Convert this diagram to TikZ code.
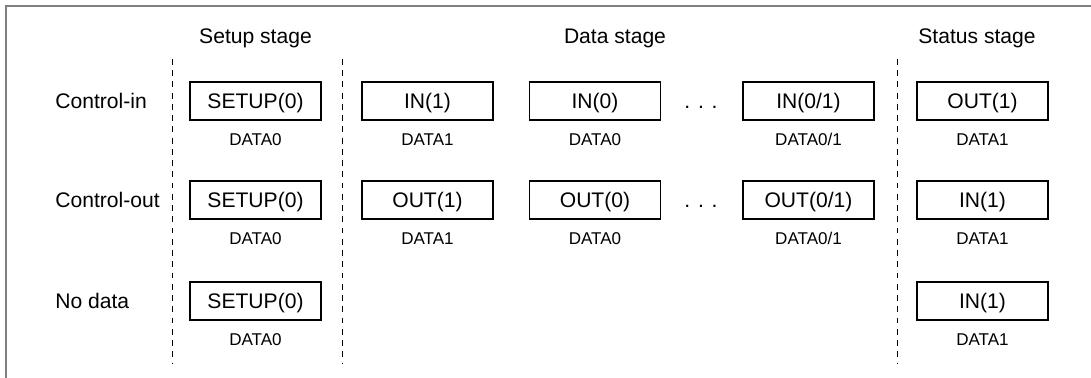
\documentclass[tikz,border=0pt]{standalone}
\usepackage{fontspec}
\setmainfont{Liberation Sans}
\usetikzlibrary{positioning}
\begin{document}
\begin{tikzpicture}[x=0.02cm,y=-0.02cm,font=\fontsize{12}{14}\selectfont,
  pkt/.style={draw,line width=0.7pt,minimum width=2.62cm,minimum height=0.76cm,inner sep=0pt,text height=8.6pt,text depth=0pt},
  pid/.style={font=\fontsize{9.7}{11}\selectfont,inner sep=0pt,text height=6.95pt,text depth=0pt,below=0.24cm of #1},
  lbl/.style={inner sep=0pt,text height=8.6pt,text depth=0pt},
  stagesep/.style={line width=0.55pt,dash pattern=on 3.3pt off 3.1pt}]
\useasboundingbox (0,0) rectangle (1091,378);
% Rahmen
\coordinate (fb) at (6,378); \coordinate (fc) at (6,6); \coordinate (fr) at (1091,6);
\draw[gray,line width=1.1pt] (fb) -- (fc) -- (fr);
% Stufen
\node[lbl] (setup) at (255.5,36) {Setup stage};
\node[lbl] (data) at (615,36) {Data stage};
\node[lbl] (status) at (977,36) {Status stage};
\coordinate (s1t) at (172,59); \coordinate (s1b) at (172,363);
\coordinate (s2t) at (342,59); \coordinate (s2b) at (342,363);
\coordinate (s3t) at (897,59); \coordinate (s3b) at (897,363);
\draw[stagesep] (s1t) -- (s1b); \draw[stagesep] (s2t) -- (s2b); \draw[stagesep] (s3t) -- (s3b);
% Control-in
\node[lbl,anchor=west] (ci) at (55,101) {Control-in};
\node[pkt] (ci-setup) at (255.5,101) {SETUP(0)}; \node[pid=ci-setup] (ci-setup-d) {DATA0};
\node[pkt] (ci-in1) at (427.5,101) {IN(1)}; \node[pid=ci-in1] (ci-in1-d) {DATA1};
\node[pkt] (ci-in0) at (595,101) {IN(0)}; \node[pid=ci-in0] (ci-in0-d) {DATA0};
\node[lbl] (ci-dots) at (701,101) {. . .};
\node[pkt] (ci-inx) at (808.5,101) {IN(0/1)}; \node[pid=ci-inx] (ci-inx-d) {DATA0/1};
\node[pkt] (ci-out) at (982.5,101) {OUT(1)}; \node[pid=ci-out] (ci-out-d) {DATA1};
% Control-out
\node[lbl,anchor=west] (co) at (55,200) {Control-out};
\node[pkt] (co-setup) at (255.5,200) {SETUP(0)}; \node[pid=co-setup] (co-setup-d) {DATA0};
\node[pkt] (co-out1) at (427.5,200) {OUT(1)}; \node[pid=co-out1] (co-out1-d) {DATA1};
\node[pkt] (co-out0) at (595,200) {OUT(0)}; \node[pid=co-out0] (co-out0-d) {DATA0};
\node[lbl] (co-dots) at (701,200) {. . .};
\node[pkt] (co-outx) at (808.5,200) {OUT(0/1)}; \node[pid=co-outx] (co-outx-d) {DATA0/1};
\node[pkt] (co-in) at (982.5,200) {IN(1)}; \node[pid=co-in] (co-in-d) {DATA1};
% No data
\node[lbl,anchor=west] (nd) at (55,301) {No data};
\node[pkt] (nd-setup) at (255.5,301) {SETUP(0)}; \node[pid=nd-setup] (nd-setup-d) {DATA0};
\node[pkt] (nd-in) at (982.5,301) {IN(1)}; \node[pid=nd-in] (nd-in-d) {DATA1};
\end{tikzpicture}
\end{document}
